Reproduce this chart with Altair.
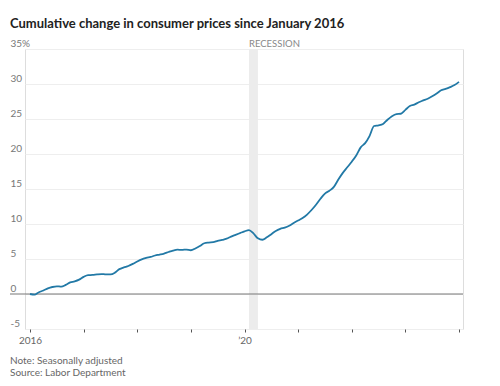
import altair as alt
import pandas as pd

# Cumulative % change in consumer prices since Jan 2016, monthly Jan 2016 .. Jan 2024
start_year = 2016
values = [
    0.0, -0.1, 0.25, 0.5, 0.8, 1.0, 1.1, 1.05, 1.3, 1.65, 1.8, 2.05,          # 2016
    2.45, 2.7, 2.72, 2.8, 2.85, 2.8, 2.8, 3.05, 3.55, 3.8, 4.0, 4.3,          # 2017
    4.65, 4.95, 5.15, 5.3, 5.5, 5.63, 5.78, 6.0, 6.2, 6.33, 6.3, 6.35,        # 2018
    6.25, 6.5, 6.85, 7.25, 7.35, 7.4, 7.58, 7.72, 7.9, 8.2, 8.45, 8.7,        # 2019
    8.95, 9.12, 8.65, 7.95, 7.75, 8.1, 8.55, 9.0, 9.3, 9.48, 9.75, 10.15,     # 2020
    10.5, 10.85, 11.35, 12.0, 12.75, 13.6, 14.35, 14.75, 15.3, 16.35, 17.3, 18.1,  # 2021
    18.9, 19.8, 20.95, 21.55, 22.6, 24.0, 24.1, 24.3, 24.9, 25.4, 25.7, 25.75,     # 2022
    26.3, 26.85, 27.05, 27.4, 27.65, 27.9, 28.25, 28.65, 29.1, 29.3, 29.55, 29.85,  # 2023
    30.3,                                                                      # Jan 2024
]
recession_start = [2020 + 1 / 12]   # Feb 2020
recession_end = [2020 + 3 / 12]     # Apr 2020
recession_label = ["RECESSION"]
y_ticks = [-5, 0, 5, 10, 15, 20, 25, 30, 35]
x_ticks = [2016, 2017, 2018, 2019, 2020, 2021, 2022, 2023, 2024]
title_text = "Cumulative change in consumer prices since January 2016"
note_text = "Note: Seasonally adjusted"
source_text = "Source: Labor Department"

df = pd.DataFrame({
    "t": [start_year + i / 12 for i in range(len(values))],
    "v": values,
})
rec_df = pd.DataFrame({"s": recession_start, "e": recession_end, "label": recession_label})

FONT = "Lato"
W, H = 438, 280
x_dom = [2016 - 5 / 53.6, 2024 + 4 / 53.6]

x_scale = alt.Scale(domain=x_dom, nice=False, zero=False)
y_scale = alt.Scale(domain=[-5, 35], nice=False, zero=False)

x_axis = alt.Axis(
    values=x_ticks, grid=False, domain=False, tickSize=3, tickColor="#555555",
    labelExpr="datum.value == 2016 ? '2016' : (datum.value == 2020 ? '\u201920' : '')",
    labelFontSize=10, labelColor="#666666", labelFont=FONT, labelPadding=3, title=None,
)
y_axis = alt.Axis(
    values=y_ticks, grid=True, gridColor="#eeeeee", domain=False, ticks=False,
    labelAlign="left", labelPadding=15, labelBaseline="bottom", labelOffset=-1,
    labelExpr="datum.value == 35 ? '35%' : toString(datum.value)",
    labelFontSize=10, labelColor="#777777", labelFont=FONT, title=None,
)

band = alt.Chart(rec_df).mark_rect(color="#ececec").encode(
    x=alt.X("s:Q", scale=x_scale, axis=x_axis),
    x2="e:Q",
    y=alt.value(0),
    y2=alt.value(H),
)
band_text = alt.Chart(rec_df).mark_text(
    align="left", baseline="alphabetic", fontSize=9.5, color="#888888", font=FONT,
).encode(
    x=alt.X("s:Q", scale=x_scale),
    y=alt.value(-2),
    text="label:N",
)

zero_rule = alt.Chart(pd.DataFrame({"z": [0]})).mark_rule(color="#777777", strokeWidth=1).encode(
    y=alt.Y("z:Q", scale=y_scale, axis=y_axis),
    x=alt.value(-15),
    x2=alt.value(W),
)

line = alt.Chart(df).mark_line(color="#2279a6", strokeWidth=1.8, interpolate="monotone").encode(
    x=alt.X("t:Q", scale=x_scale, axis=x_axis),
    y=alt.Y("v:Q", scale=y_scale, axis=y_axis),
)

note_layer = alt.Chart(pd.DataFrame({"note": [note_text]})).mark_text(
    align="left", baseline="middle", fontSize=10, color="#666666", font=FONT,
).encode(x=alt.value(-15), y=alt.value(312), text="note:N")

source_layer = alt.Chart(pd.DataFrame({"note": [source_text]})).mark_text(
    align="left", baseline="middle", fontSize=10, color="#666666", font=FONT,
).encode(x=alt.value(-15), y=alt.value(324), text="note:N")

chart = alt.layer(band, band_text, zero_rule, line, note_layer, source_layer).properties(
    width=W,
    height=H,
    padding={"left": 17, "top": 41, "right": 10, "bottom": 56},
    autosize=alt.AutoSizeParams(type="none"),
    title=alt.TitleParams(
        title_text, anchor="start", frame="group", dx=-15, font=FONT, fontSize=13,
        fontWeight="bold", color="#222222", offset=7,
    ),
).configure_view(stroke=None).configure(background="white")

chart.save("out.html", embed_options={"renderer": "svg", "actions": False})
